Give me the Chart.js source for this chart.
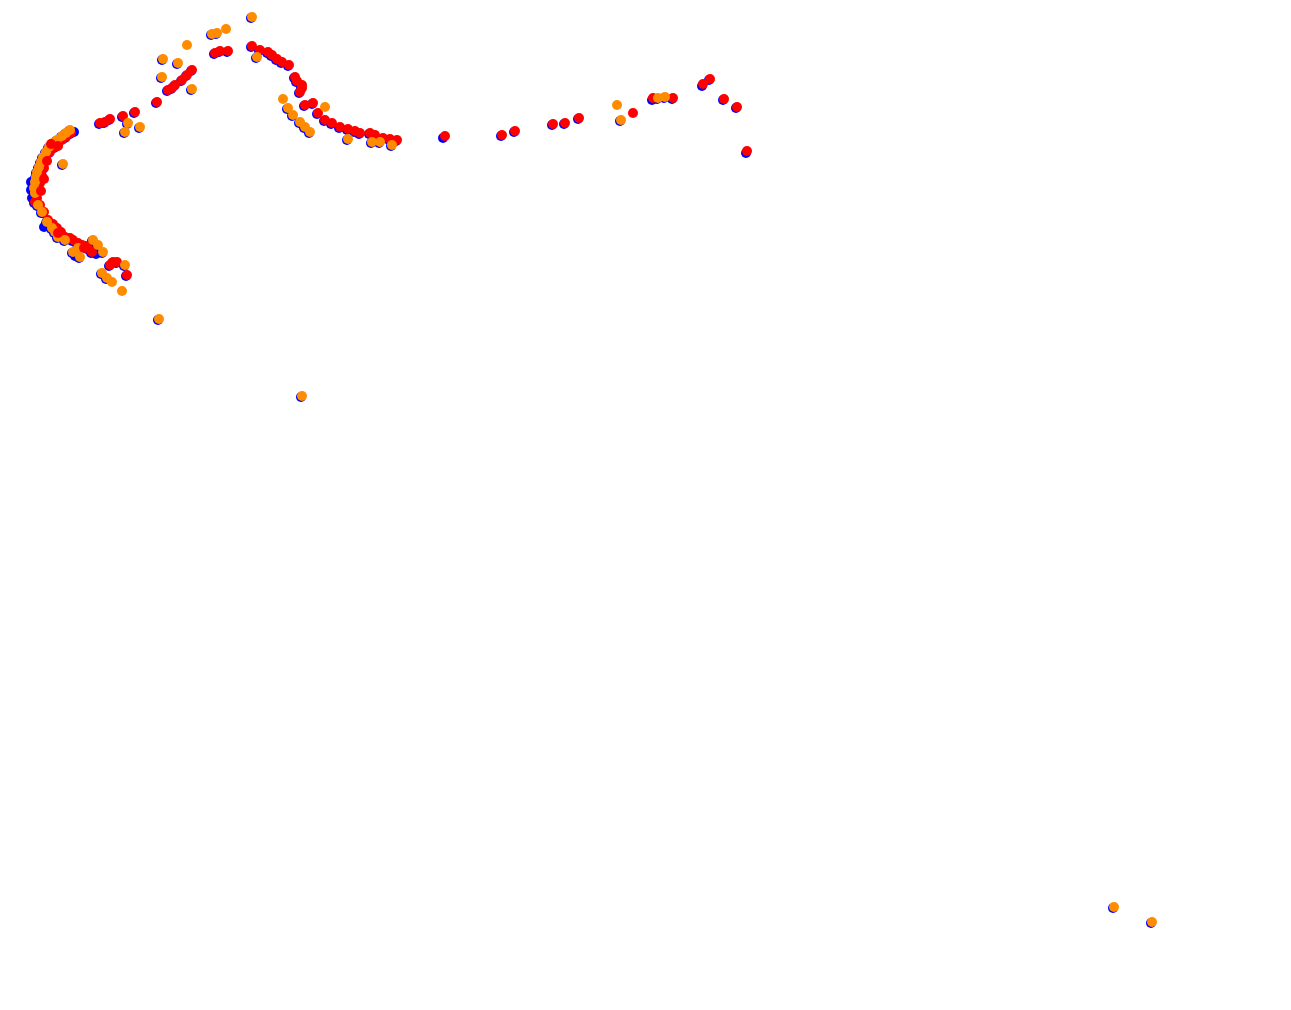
<!DOCTYPE html>
<html>
<head>
<meta charset="utf-8">
<script src="https://cdn.jsdelivr.net/npm/chart.js@4/dist/chart.umd.min.js"></script>
<style>
  html, body { margin: 0; padding: 0; background: #fff; }
  #wrap { width: 1291px; height: 1010px; }
</style>
</head>
<body>
<div id="wrap"><canvas id="trackChart"></canvas></div>
<script>
// positions, x / y in plot units (y grows downward)
var bluePoints = [
  [69,131],[65,134],[61,137],[56,141],[52,144],[48,148],[45,153],[42,158],[40,163],[38,168],
  [36,173],[35,178],[34,183],[33,189],[34,194],[62,165],[37,206],[41,213],[46,223],[51,229],
  [54,233],[57,238],[64,241],[72,253],[79,258],[77,249],[92,241],[97,246],[102,253],[124,266],
  [101,274],[106,279],[127,124],[124,133],[139,128],[162,60],[177,64],[161,78],[191,90],[211,35],
  [216,34],[251,18],[256,58],[287,109],[292,116],[299,123],[304,128],[309,133],[347,140],[371,143],
  [379,143],[391,146],[620,121],[657,99],[664,98],[158,320],[301,397],[1113,908],[1151,923],
  [70,134],[65,138],[57,146],[54,148],[49,153],[45,161],[43,169],[41,177],[39,184],[35,193],
  [36,199],[34,203],[39,206],[43,213],[47,221],[52,225],[56,229],[60,233],[64,238],[69,239],
  [72,241],[77,244],[81,246],[85,247],[87,249],[91,253],[109,266],[112,263],[116,263],[126,276],
  [99,124],[104,123],[109,120],[122,117],[134,113],[156,103],[167,91],[171,89],[174,86],[181,81],
  [186,76],[191,71],[214,54],[219,52],[227,52],[251,47],[259,51],[267,53],[271,56],[276,60],
  [281,63],[288,66],[294,78],[296,82],[301,86],[301,89],[299,93],[304,106],[312,104],[317,114],
  [324,121],[331,124],[339,128],[347,130],[354,132],[359,134],[369,134],[374,136],[382,139],[389,140],
  [396,141],[443,138],[501,136],[514,132],[552,125],[564,124],[578,119],[652,100],[672,99],[702,86],
  [709,80],[723,100],[736,108],[746,153],
  [31,182],[31,190],[32,198],[44,227],[75,256],[96,254],[40,170],[74,132]
];
var redPoints = [
  [71,133],[66,137],[62,140],[58,145],[55,147],[50,152],[46,160],[44,168],[42,176],[40,183],
  [36,192],[37,198],[35,202],[40,205],[44,212],[48,220],[53,224],[57,228],[61,232],[65,237],
  [70,238],[73,240],[78,243],[82,245],[86,246],[88,248],[92,252],[110,265],[113,262],[117,262],
  [127,275],[100,123],[105,122],[110,119],[123,116],[135,112],[157,102],[168,90],[172,88],[175,85],
  [182,80],[187,75],[192,70],[215,53],[220,51],[228,51],[252,46],[260,50],[268,52],[272,55],
  [277,59],[282,62],[289,65],[295,77],[297,81],[302,85],[302,88],[300,92],[305,105],[313,103],
  [318,113],[325,120],[332,123],[340,127],[348,129],[355,131],[360,133],[370,133],[375,135],[383,138],
  [390,139],[397,140],[445,136],[502,135],[515,131],[553,124],[565,123],[579,118],[633,113],[653,98],
  [673,98],[703,84],[710,79],[724,99],[737,107],[747,151]
];
// a few red fixes that sit on top of the orange band
var redTopPoints = [
  [58,146],[51,144],[47,161],[44,179],[41,191],[58,233],[84,248]
];
var orangePoints = [
  [70,130],[66,133],[62,136],[57,140],[53,143],[49,147],[46,152],[43,157],[41,162],[39,167],
  [37,172],[36,177],[35,182],[34,188],[35,193],[63,164],[38,205],[42,212],[47,222],[52,228],
  [55,232],[58,237],[65,240],[73,252],[80,257],[78,248],[93,240],[98,245],[103,252],[125,265],
  [102,273],[107,278],[112,282],[122,291],[128,123],[125,132],[140,127],[163,59],[178,63],[162,77],
  [187,45],[192,89],[212,34],[217,33],[226,29],[252,17],[257,57],[283,99],[288,108],[293,115],
  [300,122],[305,127],[310,132],[325,107],[348,139],[372,142],[380,142],[392,145],[617,105],[621,120],
  [658,98],[665,97],[159,319],[302,396],[1114,907],[1152,922]
];

function toXY(list) {
  return list.map(function (p) { return { x: p[0], y: p[1] }; });
}

var ctx = document.getElementById("trackChart").getContext("2d");

var myChart = new Chart(ctx, {
  type: "scatter",
  data: {
    datasets: [
      {
        data: toXY(redTopPoints),
        backgroundColor: "#ff0000",
        pointRadius: 5,
        borderWidth: 0,
        order: 0,
      },
      {
        data: toXY(orangePoints),
        backgroundColor: "#ff8c00",
        pointRadius: 5,
        borderWidth: 0,
        order: 1, // روی همه
      },
      {
        data: toXY(redPoints),
        backgroundColor: "#ff0000",
        pointRadius: 5,
        borderWidth: 0,
        order: 2,
      },
      {
        data: toXY(bluePoints),
        backgroundColor: "#0000ff",
        pointRadius: 5,
        borderWidth: 0,
        order: 3, // زیر همه
      },
    ],
  },
  options: {
    responsive: true,
    maintainAspectRatio: false,
    animation: false,
    layout: { padding: 0, autoPadding: false },
    plugins: {
      legend: { display: false },
      tooltip: { enabled: false },
    },
    scales: {
      x: { type: "linear", display: false, min: 0, max: 1291 },
      y: { type: "linear", display: false, min: 0, max: 1010, reverse: true },
    },
  },
});
</script>
</body>
</html>
